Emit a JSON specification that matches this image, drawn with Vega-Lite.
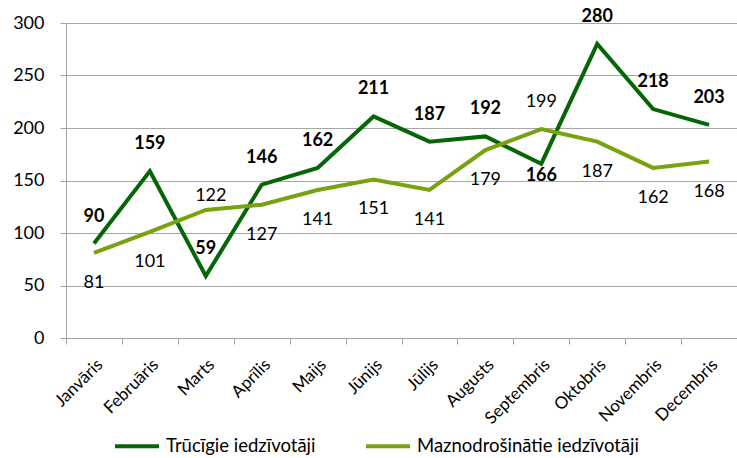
{
  "$schema": "https://vega.github.io/schema/vega-lite/v6.json",
  "width": 671,
  "height": 315,
  "autosize": {"type": "none"},
  "padding": {"left": 66, "top": 23, "right": 0, "bottom": 120},
  "background": "white",
  "config": {
    "font": "Lato",
    "view": {"stroke": null},
    "axis": {"domainColor": "#a0a0a0", "tickColor": "#a0a0a0", "gridColor": "#a6a6a6", "labelColor": "#000", "labelFont": "Lato"}
  },
  "data": {
    "values": [
      {"month": "Janvāris", "series": "Trūcīgie iedzīvotāji", "value": 90},
      {"month": "Februāris", "series": "Trūcīgie iedzīvotāji", "value": 159},
      {"month": "Marts", "series": "Trūcīgie iedzīvotāji", "value": 59},
      {"month": "Aprīlis", "series": "Trūcīgie iedzīvotāji", "value": 146},
      {"month": "Maijs", "series": "Trūcīgie iedzīvotāji", "value": 162},
      {"month": "Jūnijs", "series": "Trūcīgie iedzīvotāji", "value": 211},
      {"month": "Jūlijs", "series": "Trūcīgie iedzīvotāji", "value": 187},
      {"month": "Augusts", "series": "Trūcīgie iedzīvotāji", "value": 192},
      {"month": "Septembris", "series": "Trūcīgie iedzīvotāji", "value": 166},
      {"month": "Oktobris", "series": "Trūcīgie iedzīvotāji", "value": 280},
      {"month": "Novembris", "series": "Trūcīgie iedzīvotāji", "value": 218},
      {"month": "Decembris", "series": "Trūcīgie iedzīvotāji", "value": 203},
      {"month": "Janvāris", "series": "Maznodrošinātie iedzīvotāji", "value": 81},
      {"month": "Februāris", "series": "Maznodrošinātie iedzīvotāji", "value": 101},
      {"month": "Marts", "series": "Maznodrošinātie iedzīvotāji", "value": 122},
      {"month": "Aprīlis", "series": "Maznodrošinātie iedzīvotāji", "value": 127},
      {"month": "Maijs", "series": "Maznodrošinātie iedzīvotāji", "value": 141},
      {"month": "Jūnijs", "series": "Maznodrošinātie iedzīvotāji", "value": 151},
      {"month": "Jūlijs", "series": "Maznodrošinātie iedzīvotāji", "value": 141},
      {"month": "Augusts", "series": "Maznodrošinātie iedzīvotāji", "value": 179},
      {"month": "Septembris", "series": "Maznodrošinātie iedzīvotāji", "value": 199},
      {"month": "Oktobris", "series": "Maznodrošinātie iedzīvotāji", "value": 187},
      {"month": "Novembris", "series": "Maznodrošinātie iedzīvotāji", "value": 162},
      {"month": "Decembris", "series": "Maznodrošinātie iedzīvotāji", "value": 168}
    ]
  },
  "encoding": {
    "x": {
      "field": "month", "type": "ordinal",
      "sort": ["Janvāris","Februāris","Marts","Aprīlis","Maijs","Jūnijs","Jūlijs","Augusts","Septembris","Oktobris","Novembris","Decembris"],
      "scale": {"type": "band", "paddingInner": 0, "paddingOuter": 0},
      "axis": {"title": null, "labelAngle": -45, "labelAlign": "right", "labelBaseline": "top", "labelFontSize": 17, "labelPadding": 12, "tickSize": 6, "tickBand": "extent", "grid": false, "domain": true, "labelLimit": 300}
    },
    "y": {
      "field": "value", "type": "quantitative",
      "scale": {"domain": [0, 300], "nice": false},
      "axis": {"title": null, "values": [0,50,100,150,200,250,300], "labelFontSize": 18, "labelPadding": 16, "tickSize": 6, "grid": true, "domain": true}
    }
  },
  "layer": [
    {
      "mark": {"type": "line", "strokeWidth": 4},
      "encoding": {
        "color": {
          "field": "series", "type": "nominal",
          "scale": {"domain": ["Trūcīgie iedzīvotāji", "Maznodrošinātie iedzīvotāji"], "range": ["#046604", "#76a30f"]},
          "legend": {
            "title": null, "orient": "none", "direction": "horizontal",
            "legendX": 47, "legendY": 399,
            "symbolType": "stroke", "symbolSize": 1936, "symbolStrokeWidth": 4,
            "labelFontSize": 18.5, "labelColor": "#000", "labelLimit": 400, "columnPadding": 42, "labelOffset": 5
          }
        }
      }
    },
    {
      "transform": [{"filter": "datum.series == 'Trūcīgie iedzīvotāji' && datum.month != 'Septembris'"}],
      "mark": {"type": "text", "dy": -27, "fontSize": 18, "fontWeight": "bold", "color": "#000"},
      "encoding": {"text": {"field": "value", "type": "quantitative"}}
    },
    {
      "transform": [{"filter": "datum.series == 'Trūcīgie iedzīvotāji' && datum.month == 'Septembris'"}],
      "mark": {"type": "text", "dy": 12, "fontSize": 18, "fontWeight": "bold", "color": "#000"},
      "encoding": {"text": {"field": "value", "type": "quantitative"}}
    },
    {
      "transform": [{"filter": "datum.series == 'Maznodrošinātie iedzīvotāji' && datum.month != 'Septembris' && datum.month != 'Marts'"}],
      "mark": {"type": "text", "dy": 30, "fontSize": 18, "color": "#000"},
      "encoding": {"text": {"field": "value", "type": "quantitative"}}
    },
    {
      "transform": [{"filter": "datum.series == 'Maznodrošinātie iedzīvotāji' && datum.month == 'Septembris'"}],
      "mark": {"type": "text", "dy": -27, "fontSize": 18, "color": "#000"},
      "encoding": {"text": {"field": "value", "type": "quantitative"}}
    },
    {
      "transform": [{"filter": "datum.series == 'Maznodrošinātie iedzīvotāji' && datum.month == 'Marts'"}],
      "mark": {"type": "text", "dy": -14, "dx": 5, "fontSize": 18, "color": "#000"},
      "encoding": {"text": {"field": "value", "type": "quantitative"}}
    }
  ]
}
